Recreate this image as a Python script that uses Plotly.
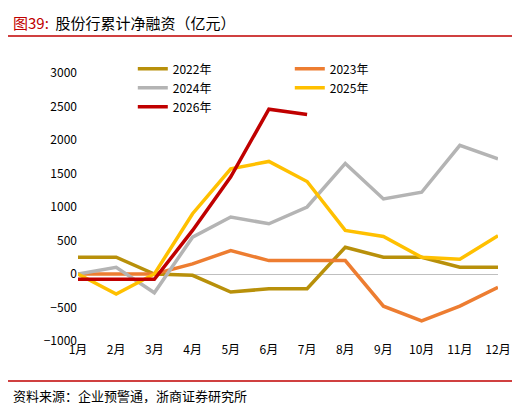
import plotly.graph_objects as go

months = ["1月", "2月", "3月", "4月", "5月", "6月", "7月", "8月", "9月", "10月", "11月", "12月"]
y2022 = [250, 250, 0, -20, -270, -220, -220, 400, 250, 250, 100, 100]
y2023 = [0, 0, 0, 150, 350, 200, 200, 200, -480, -700, -480, -200]
y2024 = [0, 100, -280, 550, 850, 750, 1000, 1650, 1120, 1220, 1920, 1720]
y2025 = [0, -300, 0, 900, 1570, 1680, 1380, 650, 560, 250, 220, 570]
y2026 = [-80, -80, -80, 650, 1450, 2460, 2380]

series = [
    ("2022年", y2022, "#B8900A"),
    ("2023年", y2023, "#ED7D31"),
    ("2024年", y2024, "#B4B4B4"),
    ("2025年", y2025, "#FFC000"),
    ("2026年", y2026, "#C00000"),
]

fig = go.Figure()
for name, vals, color in series:
    fig.add_trace(go.Scatter(x=months[:len(vals)], y=vals, name=name, mode="lines",
                             line=dict(color=color, width=3.5)))

fig.update_layout(
    width=520, height=403,
    paper_bgcolor="white", plot_bgcolor="white",
    font=dict(family="Noto Sans CJK SC", size=12, color="black"),
    margin=dict(l=70, r=30, t=65, b=70, autoexpand=False),
    showlegend=True,
    legend=dict(orientation="h", xref="container", yref="container",
                x=0.24, y=0.885, xanchor="left", yanchor="top",
                entrywidth=112, font=dict(size=12), bgcolor="rgba(0,0,0,0)",
                tracegroupgap=0),
    xaxis=dict(showline=False, ticks="", showgrid=False),
    yaxis=dict(range=[-1000, 3000], dtick=500, showgrid=False, zeroline=True,
               zerolinecolor="#BFBFBF", zerolinewidth=1, ticks=""),
    annotations=[
        dict(text="<span style='color:#C00000'>图39:</span>  股份行累计净融资（亿元）",
             x=-0.16, y=1.19, xref="paper", yref="paper", xanchor="left", yanchor="middle",
             showarrow=False, font=dict(size=15)),
        dict(text="资料来源：企业预警通，浙商证券研究所",
             x=-0.16, y=-0.205, xref="paper", yref="paper", xanchor="left", yanchor="middle",
             showarrow=False, font=dict(size=13)),
    ],
    shapes=[
        dict(type="line", xref="paper", yref="paper", x0=-0.167, x1=1.071, y0=1.138, y1=1.138,
             line=dict(color="#C00000", width=1.5)),
        dict(type="line", xref="paper", yref="paper", x0=-0.167, x1=1.071, y0=-0.149, y1=-0.149,
             line=dict(color="#C00000", width=1.5)),
    ],
)
fig.write_html("out.html")
